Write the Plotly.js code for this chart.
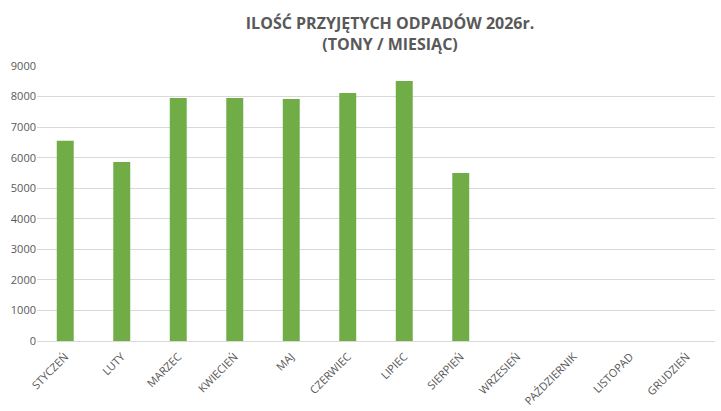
<!DOCTYPE html>
<html>
<head>
<meta charset="utf-8">
<script src="https://cdn.plot.ly/plotly-3.0.1.min.js"></script>
<style>
  html, body { margin: 0; padding: 0; background: #fff; }
  #wykres { width: 721px; height: 411px; }
</style>
</head>
<body>
<div id="wykres"></div>
<script>
// miesiace i ilosci (tony)
const miesiace = ["STYCZEŃ", "LUTY", "MARZEC", "KWIECIEŃ", "MAJ", "CZERWIEC", "LIPIEC", "SIERPIEŃ", "WRZESIEŃ", "PAŹDZIERNIK", "LISTOPAD", "GRUDZIEŃ"];
const ilosci = [6550, 5860, 7950, 7950, 7920, 8120, 8510, 5500, null, null, null, null];
const osY = [0, 1000, 2000, 3000, 4000, 5000, 6000, 7000, 8000, 9000];

const szary = "#595959";

Plotly.newPlot("wykres", [
    {
        type: "bar",
        x: miesiace,
        y: ilosci,
        marker: { color: "#70AD47" },
        hoverinfo: "x+y"
    }
], {
    width: 721,
    height: 411,
    title: {
        text: "<b>ILOŚĆ PRZYJĘTYCH ODPADÓW 2026r.<br>(TONY / MIESIĄC)</b>",
        font: { family: "Open Sans, sans-serif", size: 16, color: szary },
        xref: "container",
        yref: "container",
        x: 0.541,
        y: 0.93,
        xanchor: "center",
        yanchor: "middle"
    },
    margin: { l: 37, r: 6, t: 66, b: 70 },
    bargap: 0.7,
    showlegend: false,
    paper_bgcolor: "#ffffff",
    plot_bgcolor: "#ffffff",
    font: { family: "Open Sans, sans-serif", color: szary },
    xaxis: {
        type: "category",
        tickangle: -45,
        tickfont: { size: 11, color: szary },
        ticklabelstandoff: 4,
        showgrid: false,
        showline: true,
        linecolor: "#d9d9d9",
        ticks: ""
    },
    yaxis: {
        range: [0, 9000],
        tickvals: osY,
        tickfont: { size: 11, color: szary },
        gridcolor: "#d9d9d9",
        zeroline: false,
        showline: false,
        ticks: "",
        ticklen: 0
    }
}, { displayModeBar: false });
</script>
</body>
</html>
